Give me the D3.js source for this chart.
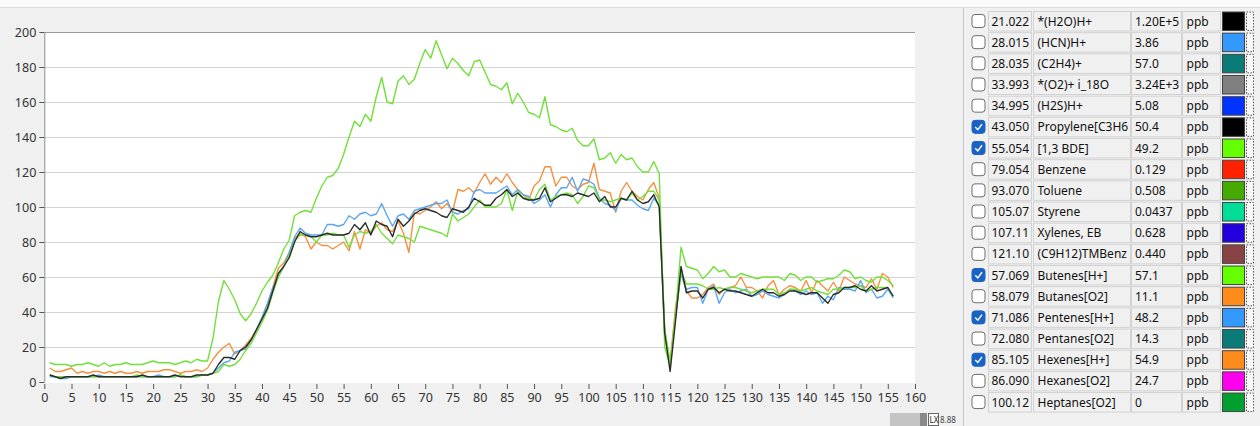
<!DOCTYPE html>
<html><head><meta charset="utf-8">
<script src="https://cdn.jsdelivr.net/npm/d3@7"></script>
<style>body{margin:0;background:#f0f0f0;overflow:hidden} svg{display:block}</style>
</head><body><svg id="c" width="1260" height="426"></svg>
<script>
// ---------- DATA ----------
const timeIdx = d3.range(1, 157); // sample index 1..156
const xTicks = d3.range(0, 161, 5);
const yTicks = [0, 20, 40, 60, 80, 100, 120, 140, 160, 180, 200];

const propylene = [4,3,2,3,3,3,3,3,4,3,3,3,3,3,3,3,3,4,3,3,3,3,3,4,3,3,3,4,4,4,
5,10,14,14,13,18,20,24,30,36,42,52,62,66,71,80,86,84,83,83,84,85,84,84,84,85,90,87,91,84,
92,90,89,83,93,89,92,96,98,99,98,97,95,94,99,98,97,100,105,103,101,101,105,107,110,106,108,105,104,104,
105,111,103,105,107,107,106,108,107,106,108,103,106,100,100,105,104,109,104,102,103,107,100,28,6,35,66,51,52,52,
48,53,54,51,53,52,52,51,50,49,51,53,51,51,49,50,52,52,51,50,51,51,48,45,50,51,54,54,55,53,
52,55,52,53,54,49];

const bde = [4,3,3,3,3,3,3,3,3,3,3,3,3,3,3,3,4,3,3,3,3,3,3,3,4,3,3,3,4,4,
5,6,10,9,10,13,18,22,28,34,41,51,60,66,72,81,84,84,83,80,84,84,85,84,84,77,84,86,85,86,
90,85,82,79,84,83,82,80,89,88,87,86,85,83,96,92,94,96,100,104,100,100,100,102,110,98,109,105,105,104,
110,113,104,106,107,108,107,102,106,112,111,104,104,103,104,105,104,108,104,106,109,109,104,30,11,37,63,56,56,56,
55,53,53,54,53,54,54,53,52,51,52,53,53,53,50,51,53,53,52,53,54,52,51,50,53,53,54,54,54,55,
52,53,54,54,54,49];

const butenes = [11,10,10,10,9,10,10,11,10,9,11,9,10,10,11,10,10,10,11,12,11,11,11,10,11,12,11,13,12,12,
25,46,58,53,47,39,35,39,45,52,57,61,68,76,81,95,97,98,97,105,112,117,118,122,130,140,149,146,153,149,
163,174,160,159,172,175,170,173,182,190,185,195,187,179,185,182,178,175,183,184,177,170,169,167,171,159,165,160,154,153,
151,163,147,146,144,143,145,138,135,135,139,127,128,131,125,130,127,128,123,120,120,126,119,20,9,39,77,66,65,64,
59,62,66,63,64,60,60,62,61,60,59,60,60,60,60,58,62,61,58,60,60,57,58,59,59,61,64,63,59,60,
58,57,60,60,58,55];

const pentenes = [3,3,2,2,3,3,3,3,3,4,3,3,3,3,3,3,3,3,3,3,4,3,3,3,4,3,3,3,4,4,
5,8,11,12,17,18,19,24,30,37,45,54,60,66,74,83,88,85,84,84,84,90,90,89,90,95,93,96,97,95,
96,102,95,89,95,96,93,98,99,100,101,102,102,104,97,96,98,99,109,110,108,108,108,110,112,107,110,107,106,102,
104,107,100,107,111,111,117,109,116,115,113,105,102,101,98,105,104,104,101,99,98,105,101,28,9,38,62,53,54,54,
45,53,55,45,51,53,51,52,53,49,50,52,50,49,48,50,53,52,50,52,50,51,45,49,47,54,53,53,52,58,
51,53,48,49,53,48];

const hexenes = [8,6,6,7,8,5,6,5,6,6,5,6,5,6,5,5,6,5,6,6,6,7,7,6,5,6,6,7,6,8,
13,17,20,22,16,18,21,25,30,36,44,54,65,68,74,82,85,83,76,80,78,78,76,78,80,75,86,76,87,85,
89,91,87,86,92,85,74,97,96,98,100,103,99,102,97,110,109,111,108,114,119,113,117,114,119,114,110,107,104,112,
115,123,123,112,117,117,112,110,113,114,125,110,109,108,97,109,114,109,106,104,110,114,105,30,11,43,62,52,48,48,
50,54,56,50,53,54,55,60,54,54,52,48,55,58,50,53,55,54,52,58,51,58,55,52,57,52,60,58,56,55,
54,59,53,62,60,54];

const seriesNames = ["Hexenes[H+]", "Pentenes[H+]", "[1,3 BDE]", "Butenes[H+]", "Propylene[C3H6"];
const seriesValues = [hexenes, pentenes, bde, butenes, propylene];
const seriesColors = ["#f5913e", "#5aa6f2", "#72e03a", "#72e03a", "#2b2b2b"];

// legend table
const legMass = ["21.022","28.015","28.035","33.993","34.995","43.050","55.054","79.054","93.070","105.07","107.11","121.10","57.069","58.079","71.086","72.080","85.105","86.090","100.12"];
const legName = ["*(H2O)H+","(HCN)H+","(C2H4)+","*(O2)+ i_18O","(H2S)H+","Propylene[C3H6","[1,3 BDE]","Benzene","Toluene","Styrene","Xylenes, EB","(C9H12)TMBenz","Butenes[H+]","Butanes[O2]","Pentenes[H+]","Pentanes[O2]","Hexenes[H+]","Hexanes[O2]","Heptanes[O2]"];
const legValue = ["1.20E+5","3.86","57.0","3.24E+3","5.08","50.4","49.2","0.129","0.508","0.0437","0.628","0.440","57.1","11.1","48.2","14.3","54.9","24.7","0"];
const legUnit = ["ppb","ppb","ppb","ppb","ppb","ppb","ppb","ppb","ppb","ppb","ppb","ppb","ppb","ppb","ppb","ppb","ppb","ppb","ppb"];
const legColor = ["#000000","#3399ff","#0b7b78","#808080","#0033ff","#000000","#66ff00","#ff2200","#44aa00","#00dd99","#2200dd","#884444","#66ff00","#ff8c1a","#3399ff","#0b7b78","#ff8c1a","#ff00ee","#00a030"];
const legChecked = [false,false,false,false,false,true,true,false,false,false,false,false,true,false,true,false,true,false,false];

// ---------- DRAW ----------
const svg = d3.select("#c");
const FONT = "'Noto Sans', 'DejaVu Sans', sans-serif";

// top strip
svg.append("rect").attr("x",0).attr("y",0).attr("width",1260).attr("height",7).attr("fill","#fbfbfb");
svg.append("line").attr("x1",0).attr("x2",1260).attr("y1",7.5).attr("y2",7.5).attr("stroke","#dcdcdc");

const x = d3.scaleLinear().domain([0,160]).range([44.3, 915]);
const y = d3.scaleLinear().domain([0,200]).range([382, 32]);

// plot area
svg.append("rect").attr("x",x(0)).attr("y",y(200)).attr("width",x(160)-x(0)).attr("height",y(0)-y(200)+1).attr("fill","#ffffff");

// grid
svg.append("g").selectAll("line").data(yTicks.filter(d=>d>0 && d<200)).join("line")
  .attr("x1",x(0)).attr("x2",x(160)).attr("y1",d=>Math.round(y(d))+0.5).attr("y2",d=>Math.round(y(d))+0.5)
  .attr("stroke","#d4d4d4").attr("stroke-width",1.2);
svg.append("line").attr("x1",x(0)).attr("x2",x(160)).attr("y1",y(200)+0.5).attr("y2",y(200)+0.5).attr("stroke","#9a9a9a");

// axes
const yAxis = svg.append("g").attr("transform",`translate(${x(0)},0)`)
  .call(d3.axisLeft(y).tickValues(yTicks).tickSize(5).tickSizeOuter(0).tickPadding(3));
yAxis.select(".domain").attr("stroke","#8a8a8a");
yAxis.selectAll(".tick line").attr("stroke","#555");
yAxis.selectAll(".tick text").attr("font-family",FONT).attr("font-size","12.5px").attr("fill","#333");

const xAxis = svg.append("g").attr("transform",`translate(0,${y(0)+2})`)
  .call(d3.axisBottom(x).tickValues(xTicks).tickSize(5).tickPadding(4));
xAxis.select(".domain").remove();
xAxis.selectAll(".tick line").attr("stroke","#555");
xAxis.selectAll(".tick text").attr("font-family",FONT).attr("font-size","12.5px").attr("fill","#333");

// lines
const line = d3.line().x((d,i)=>x(timeIdx[i])).y(d=>y(d));
svg.append("g").selectAll("path").data(seriesValues).join("path")
  .attr("d", d=>line(d)).attr("fill","none")
  .attr("stroke",(d,i)=>seriesColors[i]).attr("stroke-width",1.4)
  .attr("stroke-linejoin","round");

// bottom-right small widget
svg.append("rect").attr("x",890).attr("y",413).attr("width",30).attr("height",13).attr("fill","#c4c4c4");
svg.append("rect").attr("x",920).attr("y",413).attr("width",7).attr("height",13).attr("fill","#8a8a8a");
svg.append("rect").attr("x",928.5).attr("y",413.5).attr("width",10).attr("height",12).attr("fill","#fff").attr("stroke","#666");
svg.append("text").attr("x",929.5).attr("y",423).attr("font-family",FONT).attr("font-size","8px").attr("fill","#222").text("LX");
svg.append("text").attr("x",940).attr("y",423).attr("font-family",FONT).attr("font-size","8px").attr("fill","#444").text("8.88");

// legend table
svg.append("line").attr("x1",963.5).attr("x2",963.5).attr("y1",8).attr("y2",426).attr("stroke","#c6c6c6");
const rowTop = i => 11 + i*21.17;
const rows = svg.append("g").selectAll("g").data(legMass).join("g")
  .attr("transform",(d,i)=>`translate(0,${rowTop(i)})`);
const cells = [[988.5,43],[1033.5,97],[1131.5,50],[1182.5,38]];
cells.forEach(([cx,w])=>{
  rows.append("rect").attr("x",cx).attr("y",0.5).attr("width",w).attr("height",19.5)
    .attr("fill","#f0f0f0").attr("stroke","#d2d2d2");
});
// checkbox
rows.append("rect").attr("x",972).attr("y",3.5).attr("width",13).attr("height",13).attr("rx",3)
  .attr("fill",(d,i)=>legChecked[i]?"#1a62c4":"#ffffff")
  .attr("stroke",(d,i)=>legChecked[i]?"#1a62c4":"#6e6e6e");
rows.filter((d,i)=>legChecked[i]).append("path")
  .attr("d","M975.2,10.2 L977.8,12.8 L982,7.2").attr("fill","none").attr("stroke","#fff").attr("stroke-width",1.4);
const txt = (sel,xx,arr)=>sel.append("text").attr("x",xx).attr("y",14.5)
  .attr("font-family",FONT).attr("font-size","12px").attr("fill","#111").text((d,i)=>arr[i]);
txt(rows,991.5,legMass);
txt(rows,1037.5,legName);
txt(rows,1135,legValue);
txt(rows,1186.5,legUnit);
// swatch
rows.append("rect").attr("x",1222.5).attr("y",1).attr("width",22).attr("height",18.5)
  .attr("fill",(d,i)=>legColor[i]).attr("stroke","#444");
rows.append("rect").attr("x",1246.5).attr("y",1).attr("width",7).attr("height",18.5)
  .attr("fill","#f8f8f8").attr("stroke","#555").attr("stroke-dasharray","1.5,1.5");
</script></body></html>
